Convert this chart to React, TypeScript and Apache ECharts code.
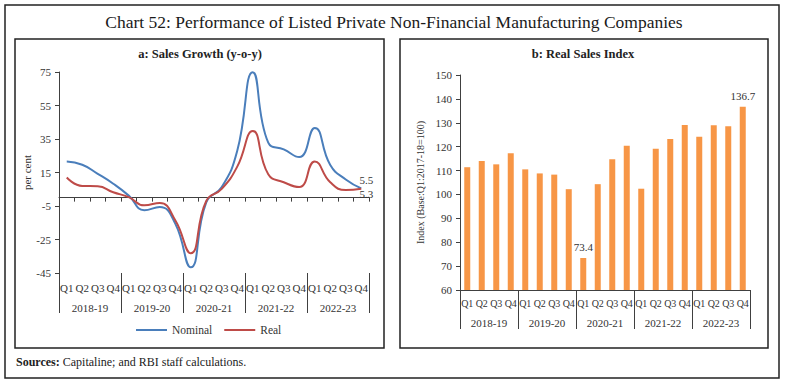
import React, { useEffect, useRef } from 'react';
import * as echarts from 'echarts';

const quarterLabels = [
  'Q1', 'Q2', 'Q3', 'Q4', 'Q1', 'Q2', 'Q3', 'Q4', 'Q1', 'Q2',
  'Q3', 'Q4', 'Q1', 'Q2', 'Q3', 'Q4', 'Q1', 'Q2', 'Q3', 'Q4',
];
const yearLabels = ['2018-19', '2019-20', '2020-21', '2021-22', '2022-23'];
const nominalGrowth = [21.5, 19.6, 14.2, 8.3, 1.2, -7.5, -5.6, -15.5, -41.6, -2.8, 6.3, 28.0, 74.9, 32.8, 28.8, 24.2, 41.6, 19.5, 10.8, 5.5];
const realGrowth = [12.0, 7.0, 6.8, 3.2, 0.3, -4.6, -3.2, -13.5, -33.2, -2.0, 5.2, 18.5, 39.8, 14.0, 9.2, 6.3, 21.5, 9.2, 4.5, 5.3];
const realSalesIndex = [111.4, 114.0, 112.6, 117.2, 110.5, 108.8, 108.3, 102.2, 73.4, 104.3, 114.7, 120.4, 102.4, 119.1, 123.2, 129.1, 124.2, 129.0, 128.5, 136.7];
const growthTicks = [-45, -25, -5, 15, 35, 55, 75];
const labelledBars = [8, 19];

const FONT = '"Liberation Serif", "DejaVu Serif", serif';
const TXT = '#333333';
const AX = '#404040';

export default function App() {
  const ref = useRef<HTMLDivElement>(null);
  useEffect(() => {
    if (!ref.current) return;
    const chart = echarts.init(ref.current, undefined, { renderer: 'svg' });
    const last = nominalGrowth.length - 1;
    const option: any = {
      animation: false,
      textStyle: { fontFamily: FONT, color: TXT },
      graphic: [
        { type: 'rect', silent: true, shape: { x: 5, y: 5, width: 774, height: 373 }, style: { fill: 'none', stroke: '#222', lineWidth: 1.5 } },
        { type: 'rect', silent: true, shape: { x: 15, y: 39, width: 369, height: 309 }, style: { fill: 'none', stroke: '#222', lineWidth: 1.5 } },
        { type: 'rect', silent: true, shape: { x: 400, y: 39, width: 368, height: 309 }, style: { fill: 'none', stroke: '#222', lineWidth: 1.5 } },
        {
          type: 'text', x: 394, y: 22, silent: true,
          style: { text: 'Chart 52: Performance of Listed Private Non-Financial Manufacturing Companies', align: 'center', verticalAlign: 'middle', fontSize: 17.5, fontFamily: FONT, fill: '#1a1a1a' },
        },
        {
          type: 'text', x: 200, y: 54, silent: true,
          style: { text: 'a: Sales Growth (y-o-y)', align: 'center', verticalAlign: 'middle', fontSize: 12.5, fontWeight: 'bold', fontFamily: FONT, fill: '#222' },
        },
        {
          type: 'text', x: 583, y: 54, silent: true,
          style: { text: 'b: Real Sales Index', align: 'center', verticalAlign: 'middle', fontSize: 12.5, fontWeight: 'bold', fontFamily: FONT, fill: '#222' },
        },
        {
          type: 'text', x: 16, y: 362, silent: true,
          style: {
            text: '{b|Sources:} Capitaline; and RBI staff calculations.',
            verticalAlign: 'middle', fontSize: 12, fontFamily: FONT, fill: '#222',
            rich: { b: { fontWeight: 'bold', fontSize: 12, fontFamily: FONT, fill: '#222' } },
          },
        },
      ],
      legend: {
        data: ['Nominal', 'Real'],
        left: 131, top: 319,
        icon: 'rect', itemWidth: 31, itemHeight: 2, itemGap: 12,
        textStyle: { fontSize: 11.5, color: TXT, fontFamily: FONT },
      },
      grid: [
        { left: 59, top: 72, width: 310, height: 201 },
        { left: 460, top: 75, width: 290, height: 215 },
      ],
      xAxis: [
        {
          gridIndex: 0, type: 'category', data: quarterLabels, position: 'bottom',
          axisLine: { onZero: true, lineStyle: { color: AX, width: 1 } },
          axisTick: { show: true, interval: 0, length: 4, lineStyle: { color: AX } },
          axisLabel: { show: false }, splitLine: { show: false },
        },
        {
          gridIndex: 0, type: 'category', data: quarterLabels, position: 'bottom',
          axisLine: { show: false, onZero: false }, axisTick: { show: false },
          axisLabel: { interval: 0, margin: 9, fontSize: 11, color: TXT, fontFamily: FONT },
        },
        {
          gridIndex: 0, type: 'category', data: yearLabels, position: 'bottom',
          axisLine: { show: false, onZero: false },
          axisTick: { show: true, interval: 0, length: 40, lineStyle: { color: AX } },
          axisLabel: { interval: 0, margin: 29, fontSize: 11, color: TXT, fontFamily: FONT },
        },
        {
          gridIndex: 1, type: 'category', data: quarterLabels, position: 'bottom',
          axisLine: { onZero: false, lineStyle: { color: AX } }, axisTick: { show: false },
          axisLabel: { interval: 0, margin: 8, fontSize: 10, color: TXT, fontFamily: FONT },
        },
        {
          gridIndex: 1, type: 'category', data: yearLabels, position: 'bottom',
          axisLine: { show: false, onZero: false },
          axisTick: { show: true, interval: 0, length: 39, lineStyle: { color: AX } },
          axisLabel: { interval: 0, margin: 27, fontSize: 11, color: TXT, fontFamily: FONT },
        },
      ],
      yAxis: [
        {
          gridIndex: 0, type: 'value', min: -45, max: 75,
          name: 'per cent', nameLocation: 'middle', nameGap: 26,
          nameTextStyle: { fontSize: 11, color: TXT, fontFamily: FONT },
          axisLine: { show: true, lineStyle: { color: AX } },
          axisTick: { show: true, length: 4, customValues: growthTicks, lineStyle: { color: AX } },
          axisLabel: { customValues: growthTicks, fontSize: 11, color: TXT, fontFamily: FONT, margin: 8 },
          splitLine: { show: false },
        },
        {
          gridIndex: 1, type: 'value', min: 60, max: 150, interval: 10,
          name: 'Index (Base:Q1:2017-18=100)', nameLocation: 'middle', nameGap: 35,
          nameTextStyle: { fontSize: 10, color: TXT, fontFamily: FONT },
          axisLine: { show: true, lineStyle: { color: AX } },
          axisTick: { show: true, length: 4, lineStyle: { color: AX } },
          axisLabel: { fontSize: 11, color: TXT, fontFamily: FONT, margin: 8 },
          splitLine: { show: false },
        },
      ],
      series: [
        {
          name: 'Nominal', type: 'line', xAxisIndex: 0, yAxisIndex: 0,
          data: nominalGrowth, smooth: true, symbol: 'circle', symbolSize: 0.01,
          lineStyle: { color: '#4A7EBB', width: 2 }, itemStyle: { color: '#4A7EBB' },
          label: {
            show: true, position: 'top', distance: 0, offset: [5, -3],
            fontSize: 11, color: TXT, fontFamily: FONT,
            formatter: (p: any) => (p.dataIndex === last ? String(p.value) : ''),
          },
          z: 3,
        },
        {
          name: 'Real', type: 'line', xAxisIndex: 0, yAxisIndex: 0,
          data: realGrowth, smooth: true, symbol: 'circle', symbolSize: 0.01,
          lineStyle: { color: '#BE4B48', width: 2 }, itemStyle: { color: '#BE4B48' },
          label: {
            show: true, position: 'bottom', distance: 0, offset: [5, 0],
            fontSize: 11, color: TXT, fontFamily: FONT,
            formatter: (p: any) => (p.dataIndex === last ? String(p.value) : ''),
          },
          z: 3,
        },
        {
          name: 'Real Sales Index', type: 'bar', xAxisIndex: 3, yAxisIndex: 1,
          data: realSalesIndex, barWidth: 6,
          itemStyle: { color: '#F79646' },
          label: {
            show: true, position: 'top', distance: 5,
            fontSize: 11, color: TXT, fontFamily: FONT,
            formatter: (p: any) => (labelledBars.includes(p.dataIndex) ? p.value.toFixed(1) : ''),
          },
        },
      ],
    };
    chart.setOption(option);
    return () => chart.dispose();
  }, []);
  return (
    <div
      ref={ref}
      style={{ position: 'fixed', left: 0, top: 0, width: 785, height: 382, background: '#fff' }}
    />
  );
}
